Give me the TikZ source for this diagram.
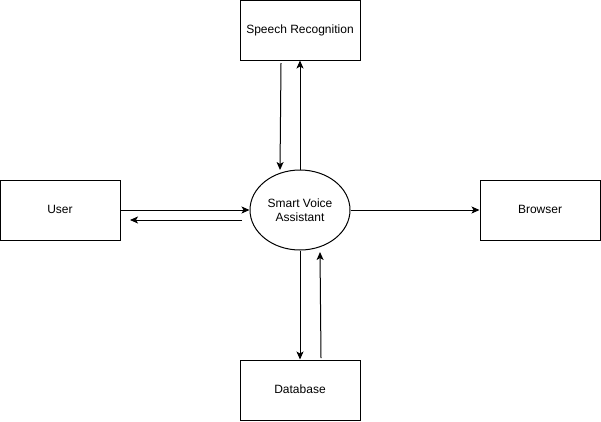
\documentclass[tikz,border=0pt]{standalone}
\usepackage{fontspec}
\setmainfont{Liberation Sans}
\usetikzlibrary{arrows.meta,shapes.geometric}
\begin{document}
\begin{tikzpicture}[x=1pt,y=-1pt,
  box/.style={draw,line width=1pt,minimum width=120pt,minimum height=60pt,inner sep=0pt,text height=9.6pt,text depth=2pt,font=\fontsize{12pt}{14pt}\selectfont},
  ell/.style={draw,line width=1pt,ellipse,minimum width=100pt,minimum height=80pt,inner sep=0pt,align=center,font=\fontsize{12pt}{14pt}\selectfont},
  conn/.style={line width=1pt,-{Stealth[length=8pt,width=7pt,inset=2pt]}}]
\useasboundingbox[fill=white] (0,0) rectangle (601,421);
\node[box] (sr) at (300,30) {Speech Recognition};
\node[box] (user) at (60,210) {User};
\node[box] (br) at (540,210) {Browser};
\node[box] (db) at (300,390) {Database};
\node[ell] (sva) at (300,210) {Smart Voice\\Assistant};
\coordinate (a1) at (281,63);
\coordinate (a2) at (280,170);
\coordinate (b1) at (242,220);
\coordinate (b2) at (130,220);
\coordinate (c1) at (321,358);
\coordinate (c2) at (320,252);
\draw[conn] (a1) -- (a2);
\draw[conn] (sva.north) -- (sr.south);
\draw[conn] (user.east) -- (sva.west);
\draw[conn] (b1) -- (b2);
\draw[conn] (sva.east) -- (br.west);
\draw[conn] (sva.south) -- (db.north);
\draw[conn] (c1) -- (c2);
\end{tikzpicture}
\end{document}
